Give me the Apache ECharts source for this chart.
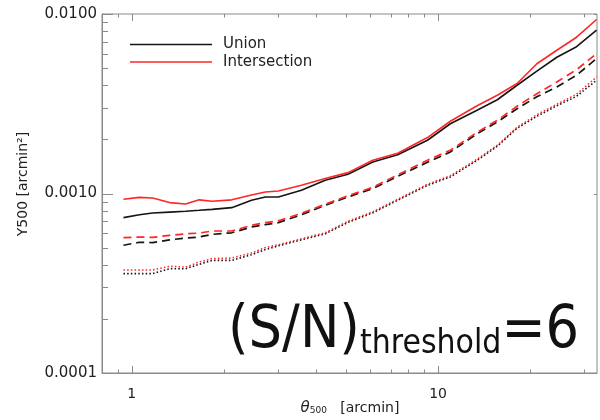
<!DOCTYPE html>
<html>
<head>
<meta charset="utf-8">
<script src="https://cdn.jsdelivr.net/npm/echarts@6/dist/echarts.min.js"></script>
<style>
html,body{margin:0;padding:0;background:#fff;}
#chart{width:600px;height:420px;}
</style>
</head>
<body>
<div id="chart"></div>
<script>
// theta500 [arcmin]
const theta = [0.94, 1.06, 1.17, 1.33, 1.5, 1.66, 1.83, 2.12, 2.46, 2.73, 3.01, 3.58, 4.28, 5.08, 6.12, 7.38, 9.23, 10.96, 13.4, 15.6, 18.1, 21.0, 24.4, 28.3, 32.9];
// Y500 [arcmin^2]
const unionSolid = [0.000734, 0.000761, 0.000778, 0.000787, 0.000796, 0.000806, 0.000816, 0.000834, 0.000917, 0.000956, 0.000956, 0.001042, 0.001185, 0.001279, 0.001498, 0.001643, 0.00198, 0.002446, 0.00291, 0.003328, 0.00401, 0.0048, 0.005743, 0.006573, 0.008123];
const interSolid = [0.000928, 0.000952, 0.000943, 0.00089, 0.000874, 0.000922, 0.000905, 0.000922, 0.000981, 0.00102, 0.001032, 0.001111, 0.001211, 0.001307, 0.001531, 0.001675, 0.002049, 0.002526, 0.003083, 0.003527, 0.0041, 0.005284, 0.006284, 0.007425, 0.009318];
const unionDash = [0.000515, 0.000535, 0.000533, 0.000552, 0.000564, 0.000572, 0.000592, 0.000604, 0.000651, 0.000671, 0.000688, 0.000761, 0.00086, 0.000956, 0.001065, 0.001247, 0.001493, 0.001703, 0.002151, 0.002503, 0.002966, 0.003459, 0.003923, 0.00456, 0.005649];
const interDash = [0.000568, 0.000572, 0.000569, 0.000585, 0.000596, 0.000602, 0.000618, 0.000618, 0.000665, 0.000688, 0.000704, 0.000775, 0.000871, 0.000971, 0.001083, 0.001271, 0.001531, 0.001741, 0.002193, 0.002559, 0.003063, 0.003595, 0.004183, 0.004892, 0.006023];
const unionDot = [0.000358, 0.000358, 0.000358, 0.000381, 0.000381, 0.000403, 0.000424, 0.000424, 0.000456, 0.000487, 0.000511, 0.000552, 0.000596, 0.000691, 0.00078, 0.000917, 0.001111, 0.001236, 0.001531, 0.001833, 0.002309, 0.002693, 0.003083, 0.003482, 0.004276];
const interDot = [0.000375, 0.000375, 0.000375, 0.000393, 0.000389, 0.000415, 0.000434, 0.000437, 0.000466, 0.0005, 0.000518, 0.000559, 0.000604, 0.0007, 0.000791, 0.000928, 0.001126, 0.001255, 0.001551, 0.001857, 0.002339, 0.002746, 0.003142, 0.003573, 0.004461];

const legendNames = ['Union', 'Intersection'];
const xMajorTicks = [1, 10];
const xMinorTicks = [0.9, 2, 3, 4, 5, 6, 7, 8, 9, 20, 30];
const yMajorTicks = [0.0001, 0.001, 0.01];
const yMinorTicks = [0.0002, 0.0003, 0.0004, 0.0005, 0.0006, 0.0007, 0.0008, 0.0009, 0.002, 0.003, 0.004, 0.005, 0.006, 0.007, 0.008, 0.009];

const BLACK = '#151515';
const RED = '#ff2626';
const AXIS = '#8a8a8a';
const FONT = 'DejaVu Sans';

function zip(xs, ys) { return xs.map((x, i) => [x, ys[i]]); }

const tickData = [];
xMajorTicks.forEach(v => tickData.push([v, 0.001, 1, 0]));
xMinorTicks.forEach(v => tickData.push([v, 0.001, 0, 0]));
yMajorTicks.forEach(v => tickData.push([1, v, 1, 1]));
yMinorTicks.forEach(v => tickData.push([1, v, 0, 1]));

function lineSeries(name, data, color, type, width) {
  return {
    name: name, type: 'line', data: data, symbol: 'none', showSymbol: false,
    lineStyle: { color: color, width: width, type: type, cap: 'butt' },
    itemStyle: { color: color },
    clip: true, silent: true
  };
}

const chart = echarts.init(document.getElementById('chart'), null, { renderer: 'canvas' });
chart.setOption({
  animation: false,
  backgroundColor: '#ffffff',
  grid: { left: 102, right: -1, top: 14, bottom: 47, show: true, borderColor: AXIS, borderWidth: 1, backgroundColor: 'transparent' },
  legend: {
    data: legendNames, orient: 'vertical', left: 130, top: 37, padding: 0,
    icon: 'rect', itemWidth: 82, itemHeight: 1.6, itemGap: 2.5,
    textStyle: { fontFamily: FONT, fontSize: 15, color: '#222', padding: [0, 0, 0, 6] }
  },
  xAxis: {
    type: 'log', logBase: 10, min: 0.8, max: 33,
    axisLine: { show: true, lineStyle: { color: AXIS, width: 1 } },
    axisTick: { show: false }, splitLine: { show: false }, minorTick: { show: false },
    axisLabel: {
      fontFamily: FONT, fontSize: 14, color: '#222', margin: 14,
      formatter: function (v) {
        const l = Math.log10(v);
        return Math.abs(l - Math.round(l)) < 1e-6 ? String(Math.round(v)) : '';
      }
    }
  },
  yAxis: {
    type: 'log', logBase: 10, min: 0.0001, max: 0.01,
    axisLine: { show: true, lineStyle: { color: AXIS, width: 1 } },
    axisTick: { show: false }, splitLine: { show: false }, minorTick: { show: false },
    axisLabel: {
      fontFamily: FONT, fontSize: 15, color: '#222', margin: 5,
      formatter: function (v) { return v.toFixed(4); }
    }
  },
  series: [
    lineSeries('Union', zip(theta, unionSolid), BLACK, 'solid', 1.6),
    lineSeries('Intersection', zip(theta, interSolid), RED, 'solid', 1.6),
    lineSeries('Union dashed', zip(theta, unionDash), BLACK, [8, 5], 1.7),
    lineSeries('Intersection dashed', zip(theta, interDash), RED, [8, 5], 1.7),
    lineSeries('Union dotted', zip(theta, unionDot), BLACK, [1.5, 2.2], 1.6),
    lineSeries('Intersection dotted', zip(theta, interDot), RED, [1.5, 2.2], 1.6),
    {
      type: 'custom', name: 'ticks', silent: true, clip: false, z: 5,
      data: tickData,
      renderItem: function (params, api) {
        const cs = params.coordSys;
        const major = api.value(2) === 1;
        const isY = api.value(3) === 1;
        const st = { stroke: AXIS, lineWidth: 1 };
        if (!isY) {
          const p = api.coord([api.value(0), 0.001]);
          const len = major ? 7 : 3.5;
          const x = Math.round(p[0]) + 0.5;
          return { type: 'group', children: [
            { type: 'line', shape: { x1: x, y1: cs.y + cs.height, x2: x, y2: cs.y + cs.height - len }, style: st },
            { type: 'line', shape: { x1: x, y1: cs.y, x2: x, y2: cs.y + len }, style: st }
          ] };
        } else {
          const p = api.coord([1, api.value(1)]);
          const len = major ? 11 : 6;
          const y = Math.round(p[1]) + 0.5;
          const children = [
            { type: 'line', shape: { x1: cs.x, y1: y, x2: cs.x + len, y2: y }, style: st }
          ];
          if (major) {
            children.push({ type: 'line', shape: { x1: cs.x + cs.width, y1: y, x2: cs.x + cs.width - 3, y2: y }, style: st });
          }
          return { type: 'group', children: children };
        }
      }
    }
  ],
  graphic: [
    {
      type: 'text', left: 228, top: 303, scaleX: 0.91, silent: true,
      style: {
        text: '{a|(S/N)}{b|threshold}{a|=6}',
        fill: '#111',
        rich: {
          a: { fontFamily: FONT, fontSize: 58, fill: '#111', verticalAlign: 'bottom' },
          b: { fontFamily: FONT, fontSize: 33, fill: '#111', verticalAlign: 'bottom', padding: [0, 0, 0, 0] }
        }
      }
    },
    {
      type: 'text', x: 350, y: 408, silent: true,
      style: {
        text: '{i|θ}{s|500}{n|   [arcmin]}',
        align: 'center', verticalAlign: 'middle',
        rich: {
          i: { fontFamily: FONT, fontStyle: 'italic', fontSize: 15, fill: '#222' },
          s: { fontFamily: FONT, fontSize: 9, fill: '#222', padding: [6, 0, 0, 0] },
          n: { fontFamily: FONT, fontSize: 14, fill: '#222' }
        }
      }
    },
    {
      type: 'text', x: 23, y: 184, rotation: Math.PI / 2, silent: true,
      style: {
        text: 'Y500 [arcmin²]', fontFamily: FONT, fontSize: 14, fill: '#222',
        align: 'center', verticalAlign: 'middle'
      }
    }
  ]
});
</script>
</body>
</html>
